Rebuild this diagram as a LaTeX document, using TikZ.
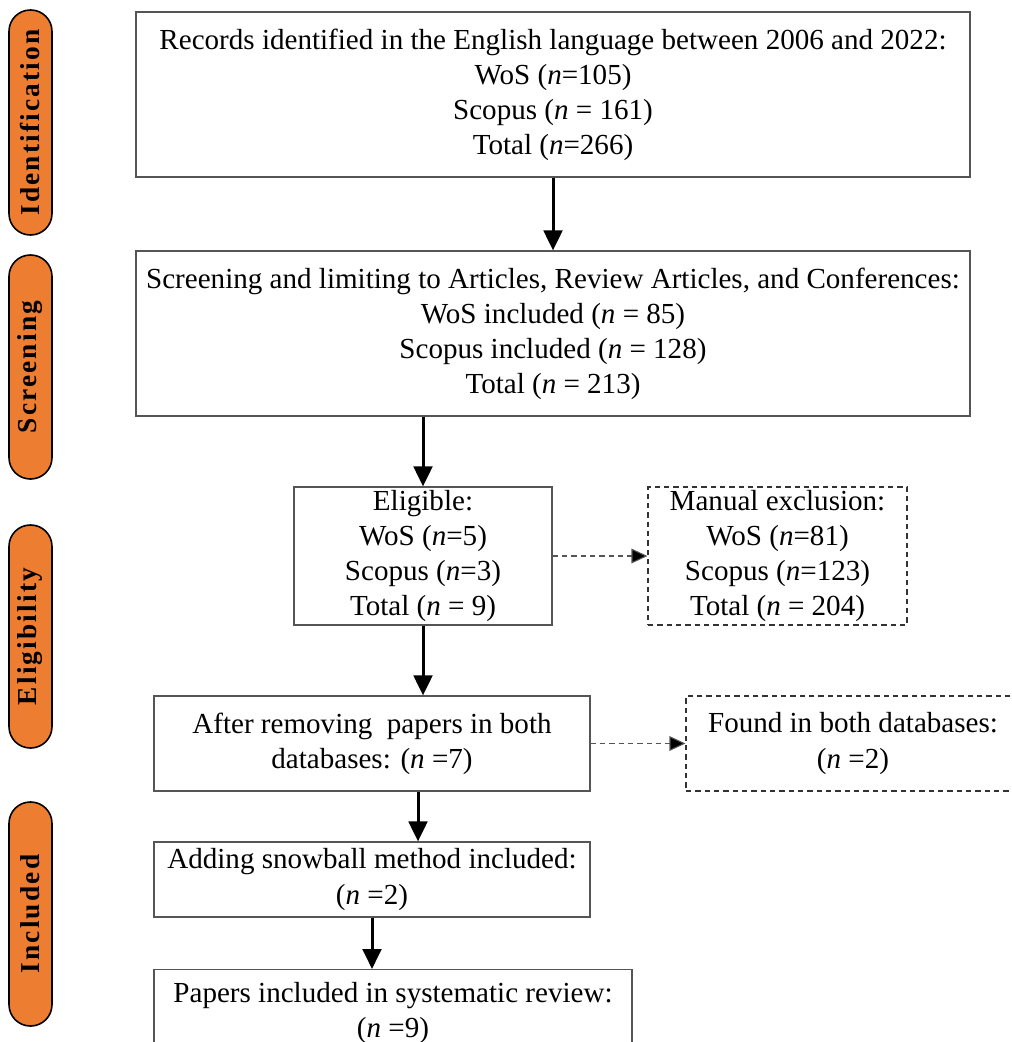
\documentclass[tikz,border=0pt]{standalone}
\usepackage{fontspec}
\setmainfont{Liberation Serif}
\newfontfamily\pillfont[LetterSpace=8]{Liberation Serif}
\usetikzlibrary{arrows.meta}
\definecolor{pillorange}{HTML}{ED7D31}
\definecolor{boxgray}{HTML}{555555}
\tikzset{
  x=0.75pt, y=-0.75pt,
  box/.style={draw=boxgray, line width=0.9pt, fill=white, align=center, inner sep=0pt,
    font=\fontsize{21.8}{26.3}\selectfont},
  dbox/.style={box, draw=black!80, line width=0.8pt, dash pattern=on 4pt off 3pt},
  pill/.style={draw=black, line width=1.2pt, fill=pillorange, rounded corners=16pt,
    minimum height=43*0.75pt, inner sep=0pt, rotate=90,
    font=\pillfont\bfseries\fontsize{20.5}{24}\selectfont},
  flow/.style={line width=2.25pt, -{Triangle[length=15pt,width=14pt]}},
  dflow/.style={draw=boxgray, line width=0.8pt, dash pattern=on 4pt off 3pt,
    -{Triangle[length=12pt,width=11pt,fill=black]}},
}
\begin{document}
\begin{tikzpicture}
\useasboundingbox (0,0) rectangle (1011,1042);
\clip (0,0) rectangle (1011,1042);
% side labels
\node[pill, minimum width=225*0.75pt] (p1) at (30.5,122.5) {Identification};
\node[pill, minimum width=224*0.75pt] (p2) at (30.5,367) {Screening};
\node[pill, minimum width=223*0.75pt] (p3) at (30.5,636.5) {Eligibility};
\node[pill, minimum width=224*0.75pt] (p4) at (30.5,914) {Included};
% boxes
\node[box, minimum width=834*0.75pt, minimum height=165*0.75pt] (b1) at (553,94.5)
  {Records identified in the English language between 2006 and 2022:\\
   WoS (\textit{n}=105)\\ Scopus (\textit{n} = 161)\\ Total (\textit{n}=266)};
\node[box, minimum width=834*0.75pt, minimum height=165*0.75pt] (b2) at (553,333.5)
  {Screening and limiting to Articles, Review Articles, and Conferences:\\
   WoS included (\textit{n} = 85)\\ Scopus included (\textit{n} = 128)\\ Total (\textit{n} = 213)};
\node[box, minimum width=258*0.75pt, minimum height=138*0.75pt] (b3) at (423,556)
  {Eligible:\\ WoS (\textit{n}=5)\\ Scopus (\textit{n}=3)\\ Total (\textit{n} = 9)};
\node[dbox, minimum width=259*0.75pt, minimum height=138*0.75pt] (b4) at (777.5,556)
  {Manual exclusion:\\ WoS (\textit{n}=81)\\ Scopus (\textit{n}=123)\\ Total (\textit{n} = 204)};
\node[box, minimum width=436*0.75pt, minimum height=95*0.75pt] (b5) at (372,743.5)
  {After removing\ \ papers in both\\ databases: (\textit{n} =7)};
\node[dbox, minimum width=334*0.75pt, minimum height=95*0.75pt] (b6) at (853,743.5)
  {Found in both databases:\\ (\textit{n} =2)};
\node[box, minimum width=436*0.75pt, minimum height=75*0.75pt] (b7) at (372,879.5)
  {Adding snowball method included:\\ (\textit{n} =2)};
\node[box, minimum width=478*0.75pt, minimum height=86*0.75pt, anchor=north] (b8) at (393,969)
  {Papers included in systematic review:\\ (\textit{n} =9)};
% connectors
\draw[flow] (b1.south) -- (b2.north);
\draw[flow] (b3.north |- b2.south) -- (b3.north);
\draw[flow] (b3.south) -- (b3.south |- b5.north);
\draw[dflow] (b3.east) -- (b4.west);
\draw[dflow] (b5.east) -- (b6.west);
\coordinate (c5) at ([xshift=46*0.75pt]b5.south);
\draw[flow] (c5) -- (c5 |- b7.north);
\draw[flow] (b7.south) -- (b7.south |- b8.north);
\end{tikzpicture}
\end{document}
